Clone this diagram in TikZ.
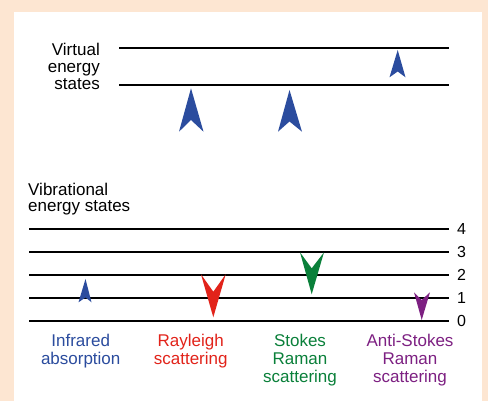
\documentclass[tikz,border=0pt]{standalone}
\usepackage{fontspec}
\setmainfont{Liberation Sans}
\definecolor{peach}{RGB}{253,230,210}
\definecolor{arrblue}{RGB}{43,76,158}
\definecolor{arrred}{RGB}{226,35,26}
\definecolor{arrgreen}{RGB}{10,128,58}
\definecolor{arrpurple}{RGB}{125,32,130}
\tikzset{
  level/.style={line width=1.8pt, black},
  lbl/.style={font=\fontsize{17}{18}\selectfont, inner sep=0pt, align=center},
  lblr/.style={font=\fontsize{17}{17}\selectfont, inner sep=0pt, align=right},
  lbll/.style={font=\fontsize{17}{17}\selectfont, inner sep=0pt, align=left},
  num/.style={font=\fontsize{16}{16}\selectfont, inner sep=0pt},
}
\begin{document}
\begin{tikzpicture}[x=1pt,y=-1pt]
\useasboundingbox (0,0) rectangle (488,401);
\fill[peach] (0,0) rectangle (488,401);
\fill[white] (14,12) rectangle (482,402);
% virtual levels
\draw[level] (119,48) -- (449,48);
\draw[level] (119,85) -- (449,85);
\node[lblr, anchor=base east] (virt) at (100,89.5) {Virtual\\energy\\states};
% vibrational levels
\foreach \n/\y in {4/229,3/252,2/275,1/298,0/321}{
  \draw[level] (29,\y) -- (449,\y);
  \node[num] (n\n) at (461.5,\y) {\n};
}
\node[lbll, anchor=base west] (vib) at (28,212) {Vibrational\\energy states};
% upward arrows (blue)
\fill[arrblue] (191,88.3) -- (203.5,131.7) -- (191,120) -- (179,131.7) -- cycle;
\fill[arrblue] (289.5,90) -- (302,131.7) -- (289.5,121.5) -- (278,131.7) -- cycle;
\fill[arrblue] (397.7,50) -- (405.5,77.3) -- (397.7,71.5) -- (389.5,77.3) -- cycle;
\fill[arrblue] (85.5,279) -- (91.5,302.3) -- (85.5,297.5) -- (78.5,302.3) -- cycle;
% downward arrows
\fill[arrred] (201,274.3) -- (213.3,291.7) -- (225.7,274.3) -- (213.3,317.3) -- cycle;
\fill[arrgreen] (300,252.3) -- (311.7,268.3) -- (324,252.3) -- (311.7,294.3) -- cycle;
\fill[arrpurple] (414,292.3) -- (421.7,300) -- (430,292.3) -- (421.7,320) -- cycle;
% labels
\node[lbl, anchor=base, text=arrblue] (ir) at (80.7,364) {Infrared\\absorption};
\node[lbl, anchor=base, text=arrred] (ray) at (190.7,364) {Rayleigh\\scattering};
\node[lbl, anchor=base, text=arrgreen] (stk) at (300,382) {Stokes\\Raman\\scattering};
\node[lbl, anchor=base, text=arrpurple] (ast) at (410,382) {Anti-Stokes\\Raman\\scattering};
\end{tikzpicture}
\end{document}
